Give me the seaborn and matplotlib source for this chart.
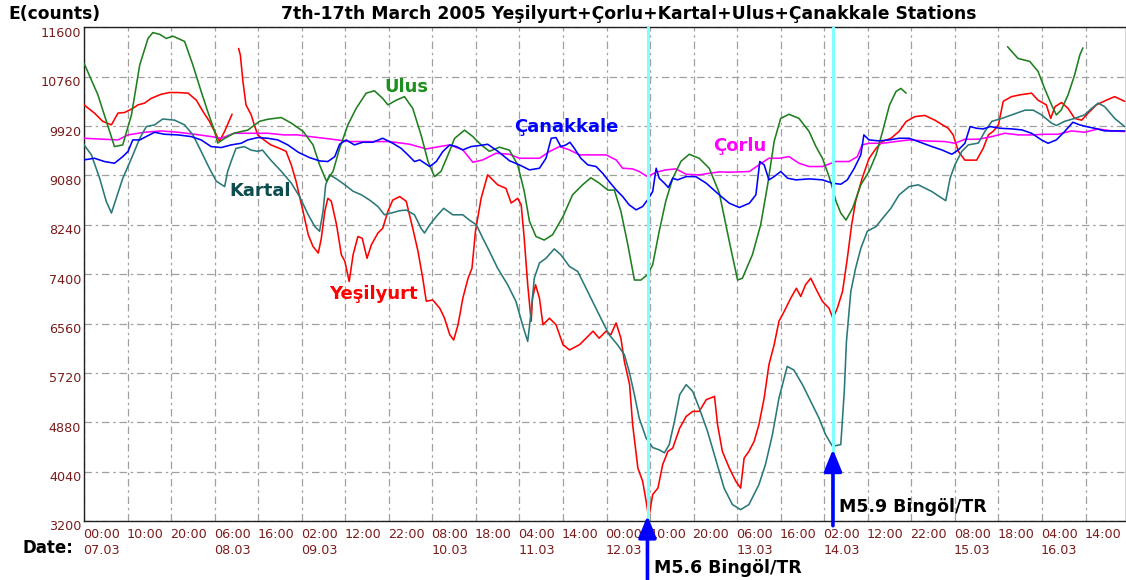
import numpy as np
import pandas as pd
import seaborn as sns
import matplotlib
matplotlib.use("Agg")
import matplotlib.pyplot as plt
from matplotlib.transforms import ScaledTranslation

# ---------------- data (hours since 07.03 00:00, counts) ----------------
ulus_h1 = [0, 3.2, 7.0, 8.9, 10.9, 12.8, 14.7, 15.8, 17.4, 18.9, 20.4, 23.1, 25.0, 26.9, 28.4, 30.0, 30.7, 32.3,
           34.5, 37.6, 40.3, 42.2, 45.3, 47.6, 50.3, 52.6, 54.1, 55.7, 57.2, 58.7, 60.6, 62.5, 64.8, 66.7, 68.6,
           69.8, 71.7, 73.6, 75.5, 77.4, 79.0, 80.5, 82.0, 83.6, 85.1, 87.4, 89.3, 91.2, 93.1, 95.4, 97.7, 99.6,
           101.1, 102.3, 103.8, 105.7, 107.6, 110.0, 112.2, 114.5, 116.4, 118.3, 120.3, 121.8, 123.3, 124.9,
           126.4, 127.9, 129.4, 130.6, 132.1, 133.6, 135.2, 137.1, 139.0, 141.3, 143.6, 145.9, 148.2, 150.1,
           151.2, 153.5, 155.4, 157.0, 158.5, 160.0, 161.9, 164.2, 166.5, 168.1, 169.6, 171.1, 171.9, 172.7,
           173.8, 175.0, 176.5, 178.4, 180.3, 181.9, 183.4, 185.0, 186.5, 187.6, 188.8]
ulus_v1 = [10990, 10450, 9570, 9600, 10110, 10960, 11410, 11510, 11480, 11410, 11450, 11360, 10960, 10510, 10170,
           9830, 9630, 9710, 9800, 9850, 10000, 10035, 10065, 9970, 9830, 9600, 9260, 8980, 9150, 9540, 9940,
           10220, 10480, 10520, 10390, 10280, 10360, 10420, 10220, 9770, 9320, 9060, 9150, 9430, 9710, 9850, 9740,
           9600, 9490, 9560, 9510, 9260, 8810, 8300, 8040, 7980, 8070, 8380, 8750, 8920, 9040, 8950, 8830, 8830,
           8470, 7900, 7300, 7300, 7390, 7560, 8130, 8640, 9030, 9320, 9440, 9370, 9200, 8780, 7955, 7300, 7330,
           7730, 8240, 8920, 9660, 10050, 10120, 10050, 9830, 9570, 9370, 9060, 8860, 8640, 8440, 8320, 8520,
           8920, 9150, 9430, 9830, 10280, 10510, 10560, 10480]
ulus_h2 = [212.1, 214.5, 217.2, 219.1, 220.6, 222.2, 223.3, 224.4, 226.0, 227.5, 228.7, 229.4]
ulus_v2 = [11270, 11070, 11020, 10850, 10560, 10280, 10110, 10190, 10450, 10790, 11130, 11250]

yesil_h1 = [0, 2.4, 4.3, 6.3, 7.8, 9.3, 11.2, 12.4, 13.9, 15.4, 17.7, 19.6, 21.6, 23.9, 25.8, 27.3, 28.8, 30.4,
            31.1, 32.3, 33.4, 34.0]
yesil_v1 = [10280, 10140, 10000, 9940, 10140, 10150, 10220, 10280, 10310, 10390, 10460, 10490, 10490, 10480,
            10360, 10170, 10000, 9770, 9660, 9830, 10020, 10120]
yesil_h2 = [35.5, 35.9, 36.5, 37.2, 38.4, 39.1, 39.9, 41.4, 42.9, 44.9, 46.4, 47.6, 48.7, 50.3, 51.5, 52.6, 53.8,
            54.5, 55.3, 56.0, 56.8, 58.0, 59.1, 59.9, 60.9, 61.8, 62.9, 63.9, 65.0, 66.0, 67.5, 68.6, 69.8, 70.9,
            72.5, 74.0, 75.5, 76.7, 77.8, 78.6, 80.1, 81.7, 82.8, 84.0, 84.9, 85.9, 87.0, 88.2, 89.1, 89.9, 91.2,
            92.7, 93.9, 95.0, 96.9, 98.1, 99.6, 100.4, 101.1, 101.9, 102.7, 103.0, 103.7, 104.6, 105.4, 106.9,
            108.4, 110.0, 111.5, 113.8, 115.3, 116.9, 118.3, 119.9, 121.0, 122.2, 123.3, 124.1, 125.3, 126.0,
            127.2, 128.3, 129.1, 129.7, 130.6, 131.8, 132.9, 134.1, 135.2, 136.8, 138.3, 139.8, 141.3, 142.9,
            144.8, 145.5, 146.6, 148.2, 149.7, 150.8, 151.6, 152.7, 153.9, 155.0, 156.2, 157.3, 158.5, 159.6,
            160.8, 162.3, 163.6, 164.6, 165.7, 166.9, 168.4, 169.6, 171.1, 172.0, 173.0, 174.2, 175.3, 176.3,
            177.2, 178.7, 180.3, 181.9, 183.4, 185.3, 187.2, 188.8, 190.8, 193.1, 195.4, 198.5, 199.6, 200.8,
            202.3, 205.0, 206.5, 207.7, 208.8, 210.0, 211.1, 213.0, 214.9, 217.6, 219.1, 221.0, 222.0, 223.0,
            224.5, 226.0, 227.5, 229.1, 230.6, 232.5, 234.8, 236.7, 239.0]
yesil_v2 = [11240, 11130, 10680, 10280, 10110, 9940, 9770, 9680, 9600, 9540, 9490, 9260, 8980, 8470, 8070, 7870,
            7760, 8010, 8470, 8690, 8640, 8240, 7730, 7620, 7275, 7730, 8040, 8010, 7670, 7900, 8100, 8180, 8470,
            8660, 8720, 8640, 8180, 7790, 7330, 6940, 6960, 6820, 6650, 6370, 6280, 6540, 6990, 7330, 7500, 8130,
            8690, 9090, 9000, 8920, 8860, 8610, 8690, 8580, 8010, 7220, 6600, 6990, 7220, 6990, 6540, 6650, 6540,
            6200, 6110, 6200, 6310, 6430, 6310, 6430, 6370, 6570, 6310, 5915, 5520, 4840, 4100, 3875, 3535, 3250,
            3650, 3760, 4160, 4385, 4440, 4780, 4980, 5065, 5065, 5264, 5320, 4840, 4385, 4100, 3875, 3760, 4270,
            4385, 4555, 4840, 5290, 5860, 6200, 6600, 6765, 6990, 7160, 7020, 7220, 7330, 7105, 6935, 6820, 6650,
            6820, 7105, 7670, 8240, 8640, 9030, 9370, 9540, 9660, 9710, 9830, 9996, 10080, 10100, 10020, 9880,
            9770, 9490, 9340, 9340, 9540, 9770, 9830, 9940, 10340, 10420, 10450, 10480, 10360, 10280, 10050, 10250,
            10320, 10220, 10050, 10020, 10140, 10280, 10360, 10420, 10340]

kartal_h = [0, 1.7, 3.6, 5.1, 6.3, 7.4, 8.9, 10.9, 12.8, 14.3, 16.2, 18.1, 20.8, 23.1, 25.0, 26.9, 28.8, 30.4,
            32.3, 33.0, 33.8, 34.9, 36.8, 38.4, 39.9, 41.0, 42.9, 45.3, 47.6, 49.5, 51.5, 53.0, 54.1, 54.9, 55.5,
            56.4, 58.0, 59.9, 61.8, 63.7, 65.6, 67.5, 69.0, 70.6, 72.5, 74.0, 75.9, 77.4, 78.2, 79.4, 80.9, 82.6,
            84.7, 87.0, 88.5, 90.1, 91.6, 93.1, 95.0, 97.3, 99.2, 100.7, 101.9, 102.7, 103.4, 104.6, 106.1, 108.0,
            109.5, 111.5, 113.4, 114.9, 116.8, 118.7, 120.6, 122.5, 124.1, 125.2, 126.4, 127.5, 129.1, 130.6,
            132.1, 133.3, 134.4, 135.6, 136.8, 138.3, 139.8, 141.3, 143.2, 145.3, 147.0, 148.9, 150.8, 152.7,
            155.0, 156.5, 158.1, 159.6, 161.5, 163.0, 165.0, 166.9, 168.8, 170.3, 171.9, 173.8, 174.6, 175.1,
            176.1, 177.2, 178.4, 179.9, 181.9, 183.4, 185.3, 187.2, 189.5, 191.6, 194.7, 197.9, 198.9, 200.0,
            201.6, 203.1, 205.4, 206.9, 208.5, 210.8, 213.1, 216.1, 218.0, 219.9, 222.2, 223.3, 225.2, 227.5,
            229.8, 231.4, 232.9, 234.4, 236.7, 239.0]
kartal_v = [9600, 9430, 9030, 8640, 8440, 8690, 9030, 9370, 9710, 9910, 9940, 10040, 10020, 9940, 9770, 9490,
            9200, 8980, 8890, 9150, 9320, 9540, 9570, 9510, 9490, 9510, 9340, 9150, 8950, 8720, 8410, 8210, 8130,
            8470, 8920, 9090, 9020, 8920, 8810, 8750, 8660, 8550, 8410, 8440, 8480, 8490, 8410, 8180, 8100, 8240,
            8380, 8520, 8410, 8410, 8320, 8240, 8010, 7790, 7500, 7220, 6935, 6540, 6256, 6765, 7330, 7590, 7670,
            7830, 7730, 7530, 7445, 7220, 6935, 6650, 6370, 6200, 6030, 5745, 5350, 4950, 4610, 4450, 4410, 4360,
            4500, 4895, 5350, 5520, 5405, 5120, 4725, 4190, 3760, 3480, 3394, 3480, 3820, 4160, 4670, 5290, 5830,
            5770, 5520, 5235, 4950, 4670, 4470, 4500, 5405, 6256, 7105, 7500, 7840, 8130, 8210, 8350, 8520, 8750,
            8890, 8920, 8806, 8650, 9030, 9260, 9490, 9600, 9630, 9830, 10000, 10050, 10110, 10190, 10190, 10110,
            9970, 9930, 10000, 10050, 10110, 10220, 10310, 10250, 10050, 9910]

canak_h = [0, 2.4, 4.7, 7.0, 8.9, 10.1, 11.2, 12.8, 14.3, 16.2, 18.5, 21.6, 24.6, 26.9, 29.2, 31.5, 33.8, 36.1,
           37.6, 39.9, 42.2, 44.5, 46.8, 49.3, 51.8, 54.1, 56.0, 57.6, 58.7, 60.2, 62.1, 64.0, 66.3, 68.6, 70.9,
           72.8, 74.4, 75.9, 77.1, 79.4, 80.9, 82.4, 84.0, 85.5, 87.0, 88.9, 90.8, 92.7, 94.6, 95.9, 97.7, 100.0,
           102.3, 104.6, 106.1, 107.3, 108.4, 109.5, 110.7, 111.6, 112.6, 114.1, 115.7, 117.6, 119.1, 120.6,
           122.2, 123.7, 125.2, 126.8, 128.3, 129.7, 130.6, 131.4, 132.1, 133.3, 134.2, 135.2, 136.3, 138.3,
           140.5, 142.9, 144.8, 145.9, 148.2, 150.5, 152.8, 154.3, 155.2, 156.2, 157.3, 158.5, 160.0, 161.6,
           163.5, 166.5, 169.6, 171.9, 173.8, 175.3, 176.9, 178.4, 179.1, 180.3, 182.6, 184.9, 187.2, 189.5,
           191.6, 194.7, 197.0, 199.3, 200.8, 202.3, 203.5, 205.0, 206.5, 208.1, 210.4, 213.1, 215.4, 217.6,
           219.9, 221.4, 223.3, 225.2, 227.1, 228.7, 230.2, 232.1, 234.4, 236.7, 239.0]
canak_v = [9344, 9372, 9316, 9287, 9400, 9486, 9684, 9684, 9741, 9814, 9780, 9769, 9741, 9684, 9571, 9554, 9599,
           9627, 9684, 9724, 9712, 9684, 9599, 9470, 9383, 9327, 9316, 9400, 9610, 9684, 9599, 9644, 9644, 9712,
           9627, 9542, 9429, 9316, 9344, 9231, 9316, 9486, 9599, 9571, 9514, 9571, 9588, 9610, 9514, 9440, 9330,
           9259, 9174, 9202, 9372, 9712, 9724, 9571, 9599, 9644, 9542, 9372, 9259, 9231, 9118, 8976, 8834, 8721,
           8579, 8494, 8551, 8692, 8806, 9202, 9032, 8947, 8874, 9032, 9004, 9060, 9060, 8947, 8820, 8749, 8607,
           8534, 8607, 8749, 9316, 9259, 9004, 9060, 9146, 9032, 9004, 9021, 9004, 8947, 8930, 9004, 9202, 9429,
           9769, 9684, 9667, 9684, 9712, 9712, 9656, 9571, 9514, 9440, 9514, 9627, 9911, 9882, 9871, 9911, 9882,
           9871, 9854, 9797, 9684, 9627, 9684, 9826, 9985, 9939, 9911, 9882, 9837, 9837, 9837]

corlu_h = [0, 4.7, 7.8, 10.1, 13.9, 17.7, 21.6, 25.4, 29.2, 31.5, 34.5, 38.4, 42.2, 46.0, 49.0, 51.8, 56.4, 61.0,
           65.6, 70.2, 74.8, 78.6, 81.7, 84.0, 87.0, 89.3, 91.6, 94.6, 97.7, 100.0, 104.6, 106.9, 109.2, 111.5,
           113.8, 116.9, 119.9, 122.2, 123.7, 126.0, 127.5, 129.4, 131.4, 133.6, 135.9, 138.3, 141.3, 143.6,
           146.0, 148.2, 152.8, 155.0, 157.3, 159.6, 161.9, 164.2, 166.5, 169.6, 172.6, 175.7, 177.6, 178.7,
           180.3, 183.4, 186.4, 189.5, 193.1, 197.7, 200.0, 202.3, 205.4, 208.5, 211.5, 214.6, 217.6, 220.6,
           223.7, 226.8, 229.8, 232.9, 236.0, 239.0]
corlu_v = [9712, 9695, 9684, 9769, 9814, 9837, 9814, 9780, 9741, 9712, 9797, 9797, 9797, 9769, 9770, 9741, 9701,
           9656, 9656, 9656, 9610, 9531, 9571, 9599, 9514, 9304, 9344, 9457, 9440, 9372, 9372, 9486, 9571, 9514,
           9429, 9429, 9429, 9344, 9202, 9191, 9146, 9060, 9134, 9174, 9191, 9100, 9089, 9117, 9140, 9134, 9146,
           9259, 9372, 9372, 9400, 9287, 9231, 9231, 9316, 9316, 9400, 9599, 9627, 9627, 9656, 9684, 9667, 9656,
           9627, 9695, 9695, 9741, 9797, 9769, 9769, 9780, 9780, 9837, 9814, 9871, 9837, 9826]

y_ticks = [3200, 4040, 4880, 5720, 6560, 7400, 8240, 9080, 9920, 10760, 11600]
x_ticks = list(range(0, 240, 10))
x_tick_labels = ["00:00\n07.03", "10:00", "20:00", "06:00\n08.03", "16:00", "02:00\n09.03", "12:00", "22:00",
                 "08:00\n10.03", "18:00", "04:00\n11.03", "14:00", "00:00\n12.03", "10:00", "20:00",
                 "06:00\n13.03", "16:00", "02:00\n14.03", "12:00", "22:00", "08:00\n15.03", "18:00",
                 "04:00\n16.03", "14:00"]
quake_hours = [129.6, 171.9]

# ---------------- build long dataframe ----------------
series = [("Yeşilyurt", 1, yesil_h1, yesil_v1), ("Yeşilyurt", 2, yesil_h2, yesil_v2),
          ("Çorlu", 1, corlu_h, corlu_v),
          ("Kartal", 1, kartal_h, kartal_v),
          ("Ulus", 1, ulus_h1, ulus_v1), ("Ulus", 2, ulus_h2, ulus_v2),
          ("Çanakkale", 1, canak_h, canak_v)]
frames = []
for name, seg, h, v in series:
    frames.append(pd.DataFrame({"hour": h, "count": v, "station": name, "seg": f"{name}{seg}"}))
df = pd.concat(frames, ignore_index=True)

palette = {"Yeşilyurt": "#ff0000", "Çorlu": "#ff00ff", "Kartal": "#2a7878",
           "Ulus": "#1f7f1f", "Çanakkale": "#0000ff"}

sns.set_theme(style="white")
plt.rcParams["font.family"] = ["DejaVu Sans"]

fig = plt.figure(figsize=(11.26, 5.80), dpi=100)
ax = fig.add_axes([84 / 1126, 1 - 521 / 580, 1 - 84 / 1126, (521 - 27.3) / 580])

sns.lineplot(data=df, x="hour", y="count", hue="station", units="seg", estimator=None,
             palette=palette, legend=False, linewidth=1.15, sort=False, ax=ax, zorder=3)

ax.set_xlim(0, 239.3)
ax.set_ylim(3200, 11600)
ax.set_yticks(y_ticks)
ax.set_yticklabels([str(t) for t in y_ticks])
ax.set_xticks(x_ticks)
ax.set_xticklabels(x_tick_labels)
ax.set_xlabel("")
ax.set_ylabel("")

tick_color = "#7a1c1c"
ax.tick_params(axis="both", length=0, labelsize=9.2, colors=tick_color)
ax.tick_params(axis="x", pad=5)
ax.tick_params(axis="y", pad=2)
for lab in ax.get_xticklabels():
    lab.set_horizontalalignment("left")
    lab.set_multialignment("left")
    lab.set_linespacing(1.35)
    lab.set_transform(lab.get_transform() + ScaledTranslation(-0.01, 0, fig.dpi_scale_trans))
for lab in ax.get_yticklabels():
    lab.set_transform(lab.get_transform() + ScaledTranslation(0, -0.045, fig.dpi_scale_trans))

ax.grid(True, color="#a0a0a0", linewidth=0.9, linestyle=(0, (6, 3, 2, 3)))
ax.set_axisbelow(True)
for s in ax.spines.values():
    s.set_color("#202020")
    s.set_linewidth(1.0)

# earthquake markers
for qh in quake_hours:
    ax.axvline(qh, color="#80ffff", linewidth=2.2, zorder=4)

arrow_kw = dict(arrowstyle="-|>,head_width=0.45,head_length=1.1", color="#0000ff", lw=2.6,
                shrinkA=0, shrinkB=0)
ax.annotate("", xy=(129.4, 3290), xycoords="data", xytext=(129.4, -0.125),
            textcoords=("data", "axes fraction"), arrowprops=arrow_kw, annotation_clip=False, zorder=6)
ax.annotate("", xy=(172.0, 4420), xycoords="data", xytext=(172.0, 3120),
            textcoords="data", arrowprops=arrow_kw, annotation_clip=False, zorder=6)

ax.text(130.8, -0.095, "M5.6 Bingöl/TR", transform=ax.get_xaxis_transform(), fontsize=12.5,
        fontweight="bold", color="black", ha="left", va="center", clip_on=False)
ax.text(173.4, 3430, "M5.9 Bingöl/TR", fontsize=12.5, fontweight="bold", color="black",
        ha="left", va="center", zorder=6)

# station labels
lab_kw = dict(fontsize=13, fontweight="bold", ha="center", va="center", zorder=7)
ax.text(74.1, 10585, "Ulus", color="#1f8f1f", **lab_kw)
ax.text(110.8, 9905, "Çanakkale", color="#0000ff", **lab_kw)
ax.text(150.5, 9582, "Çorlu", color="#ff00ff", **lab_kw)
ax.text(40.4, 8817, "Kartal", color="#0d4d4d", **lab_kw)
ax.text(66.5, 7066, "Yeşilyurt", color="#ff0000", **lab_kw)

fig.text(629 / 1126, 1 - 14 / 580, "7th-17th March 2005 Yeşilyurt+Çorlu+Kartal+Ulus+Çanakkale Stations",
         fontsize=12.4, fontweight="bold", ha="center", va="center", color="black")
fig.text(8 / 1126, 1 - 14 / 580, "E(counts)", fontsize=12.3, fontweight="bold", ha="left", va="center",
         color="black")
fig.text(23 / 1126, 1 - 548 / 580, "Date:", fontsize=12, fontweight="bold", ha="left", va="center",
         color="black")

fig.savefig("out.png", dpi=100)
